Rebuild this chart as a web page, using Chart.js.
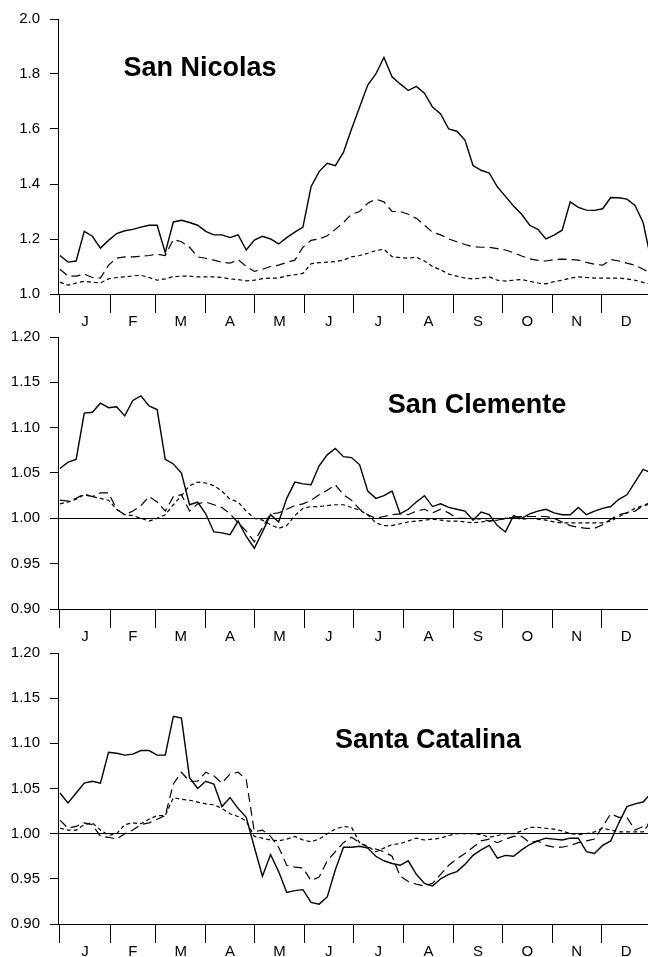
<!DOCTYPE html>
<html>
<head>
<meta charset="utf-8">
<script src="https://cdn.jsdelivr.net/npm/chart.js@4.4.0/dist/chart.umd.min.js"></script>
<style>
  body { margin: 0; background: #fff; width: 648px; height: 957px; overflow: hidden; position: relative; }
  canvas { position: absolute; left: 0; }
</style>
</head>
<body>
<canvas id="c1" width="648" height="333" style="top:0px"></canvas>
<canvas id="c2" width="648" height="330" style="top:318px"></canvas>
<canvas id="c3" width="648" height="323" style="top:634px"></canvas>
<script>
// day of year for every sample
var days = [0,5,10,15,20,25,30,35,40,45,50,55,60,65,70,75,80,85,90,95,
  100,105,110,115,120,125,130,135,140,145,150,155,160,165,170,175,180,185,190,195,
  200,205,210,215,220,225,230,235,240,245,250,255,260,265,270,275,280,285,290,295,
  300,305,310,315,320,325,330,335,340,345,350,355,360,365];

var monthStarts = [0,31,59,90,120,151,181,212,243,273,304,334];
var monthLengths = [31,28,31,30,31,30,31,31,30,31,30,31];
var monthNames = ['J','F','M','A','M','J','J','A','S','O','N','D'];

var nicTicks = [1.0,1.2,1.4,1.6,1.8,2.0];
var ratioTicks = [0.90,0.95,1.00,1.05,1.10,1.15,1.20];

// San Nicolas
var nicSolid = [1.14,1.116,1.12,1.228,1.21,1.167,1.195,1.22,1.23,1.235,
  1.243,1.25,1.25,1.15,1.262,1.268,1.26,1.25,1.228,1.215,
  1.215,1.205,1.215,1.16,1.196,1.21,1.2,1.182,1.205,1.225,
  1.243,1.39,1.445,1.475,1.467,1.515,1.6,1.68,1.76,1.8,
  1.86,1.79,1.764,1.74,1.755,1.73,1.68,1.655,1.6,1.592,
  1.56,1.467,1.45,1.44,1.39,1.355,1.32,1.29,1.25,1.235,
  1.2,1.214,1.232,1.335,1.315,1.305,1.304,1.31,1.351,1.35,
  1.345,1.322,1.26,1.12];
var nicLong = [1.09,1.065,1.065,1.072,1.06,1.058,1.105,1.13,1.135,1.135,
  1.137,1.14,1.145,1.14,1.198,1.19,1.17,1.135,1.13,1.123,
  1.116,1.112,1.125,1.1,1.082,1.09,1.1,1.105,1.115,1.123,
  1.17,1.195,1.2,1.212,1.235,1.26,1.29,1.3,1.33,1.345,
  1.335,1.3,1.3,1.29,1.275,1.25,1.225,1.215,1.2,1.19,
  1.18,1.172,1.17,1.17,1.165,1.16,1.15,1.138,1.128,1.122,
  1.12,1.125,1.127,1.125,1.123,1.115,1.108,1.105,1.125,1.12,
  1.112,1.105,1.09,1.075];
var nicShort = [1.043,1.032,1.04,1.046,1.043,1.04,1.055,1.06,1.062,1.066,
  1.068,1.06,1.05,1.055,1.063,1.065,1.065,1.062,1.062,1.062,
  1.06,1.055,1.052,1.048,1.05,1.056,1.058,1.058,1.066,1.07,
  1.075,1.11,1.114,1.116,1.118,1.123,1.135,1.14,1.148,1.158,
  1.163,1.136,1.132,1.13,1.134,1.12,1.1,1.088,1.072,1.065,
  1.058,1.055,1.058,1.062,1.05,1.047,1.05,1.053,1.046,1.04,
  1.037,1.045,1.05,1.058,1.062,1.06,1.058,1.058,1.058,1.058,
  1.055,1.05,1.042,1.035];

// San Clemente
var cleSolid = [1.055,1.062,1.065,1.116,1.117,1.127,1.122,1.123,1.113,1.13,
  1.135,1.124,1.12,1.065,1.06,1.05,1.015,1.018,1.005,0.985,
  0.984,0.982,0.997,0.98,0.967,0.985,1.004,0.996,1.022,1.04,
  1.038,1.037,1.058,1.07,1.077,1.068,1.067,1.059,1.03,1.022,
  1.025,1.03,1.005,1.01,1.018,1.025,1.013,1.016,1.012,1.01,
  1.008,0.998,1.007,1.004,0.992,0.985,1.003,1.0,1.005,1.008,
  1.01,1.006,1.004,1.004,1.012,1.004,1.008,1.011,1.013,1.021,
  1.026,1.04,1.054,1.05];
var cleLong = [1.02,1.019,1.022,1.027,1.024,1.028,1.028,1.01,1.004,1.008,
  1.014,1.024,1.018,1.008,1.024,1.026,1.008,1.016,1.018,1.015,
  1.012,1.005,0.995,0.986,0.974,0.99,1.005,1.006,1.01,1.014,
  1.016,1.02,1.026,1.031,1.037,1.026,1.02,1.01,1.004,1.0,
  1.002,1.004,1.005,1.004,1.008,1.01,1.006,1.01,1.006,1.0,
  1.0,1.0,0.999,0.997,0.998,1.0,1.001,1.002,1.002,1.002,
  1.002,1.0,0.996,0.992,0.99,0.989,0.989,0.993,0.999,1.004,
  1.006,1.008,1.014,1.018];
var cleShort = [1.016,1.018,1.021,1.026,1.024,1.022,1.02,1.01,1.004,1.003,
  1.0,0.997,1.0,1.004,1.015,1.025,1.036,1.04,1.039,1.036,
  1.03,1.021,1.018,1.008,1.0,0.998,0.993,0.989,0.992,1.003,
  1.011,1.013,1.013,1.014,1.015,1.015,1.012,1.009,1.004,0.995,
  0.992,0.992,0.994,0.996,0.997,0.998,0.999,0.998,0.997,0.997,
  0.996,0.995,0.996,0.997,0.998,1.0,1.001,0.999,1.0,0.999,
  0.998,0.996,0.995,0.995,0.995,0.995,0.995,0.995,0.997,1.002,
  1.006,1.011,1.014,1.016];

// Santa Catalina
var catSolid = [1.045,1.034,1.045,1.056,1.058,1.056,1.09,1.089,1.087,1.088,
  1.092,1.092,1.087,1.087,1.13,1.128,1.062,1.05,1.058,1.055,
  1.03,1.04,1.028,1.018,0.985,0.953,0.977,0.958,0.935,0.937,
  0.938,0.924,0.922,0.93,0.96,0.985,0.985,0.986,0.984,0.975,
  0.97,0.967,0.965,0.97,0.955,0.945,0.942,0.95,0.955,0.958,
  0.966,0.976,0.982,0.987,0.973,0.976,0.975,0.982,0.988,0.992,
  0.995,0.994,0.993,0.995,0.995,0.98,0.978,0.987,0.992,1.012,
  1.03,1.033,1.035,1.045];
var catLong = [1.015,1.006,1.008,1.012,1.01,0.997,0.996,0.994,1.0,1.004,
  1.01,1.012,1.016,1.02,1.055,1.068,1.058,1.058,1.068,1.064,
  1.056,1.066,1.068,1.06,1.002,1.004,0.997,0.985,0.965,0.963,
  0.962,0.948,0.952,0.97,0.98,0.99,0.996,0.99,0.985,0.983,
  0.98,0.975,0.953,0.947,0.944,0.942,0.945,0.955,0.965,0.972,
  0.978,0.985,0.992,0.994,0.99,0.994,0.997,0.997,0.99,0.992,
  0.987,0.985,0.985,0.987,0.99,0.992,0.994,1.008,1.022,1.018,
  1.018,1.004,1.008,1.012];
var catShort = [1.006,1.004,1.004,1.01,1.012,1.004,0.998,1.0,1.01,1.012,
  1.011,1.016,1.02,1.02,1.04,1.038,1.037,1.035,1.033,1.032,
  1.028,1.022,1.019,1.014,0.997,0.995,0.993,0.992,0.994,0.997,
  0.993,0.991,0.994,1.0,1.005,1.008,1.007,0.99,0.986,0.98,
  0.984,0.988,0.989,0.992,0.995,0.993,0.994,0.995,0.998,1.0,
  1.0,1.0,0.999,0.996,0.998,1.0,1.0,1.003,1.007,1.007,
  1.006,1.005,1.003,1.0,0.999,1.0,1.002,1.006,1.004,1.002,
  1.002,1.002,1.002,1.014];

var FONT = '"Liberation Sans", Arial, Helvetica, sans-serif';
Chart.defaults.font.family = FONT;
Chart.defaults.color = '#000';

var lineStyles = [
  { dash: [], width: 1.4 },
  { dash: [9, 5], width: 1.2 },
  { dash: [4, 3], width: 1.2 }
];

var panels = [
  { id: 'c1', title: 'San Nicolas', titleDay: 86.4, titleValue: 1.7935,
    min: 1.0, max: 2.0, ticks: nicTicks, digits: 1, top: 18, bottom: 294,
    series: [nicSolid, nicLong, nicShort] },
  { id: 'c2', title: 'San Clemente', titleDay: 257.4, titleValue: 1.1163,
    min: 0.9, max: 1.2, ticks: ratioTicks, digits: 2, top: 15, bottom: 291,
    series: [cleSolid, cleLong, cleShort] },
  { id: 'c3', title: 'Santa Catalina', titleDay: 227.2, titleValue: 1.095,
    min: 0.9, max: 1.2, ticks: ratioTicks, digits: 2, top: 15, bottom: 290,
    series: [catSolid, catLong, catShort] }
];

// island name written inside the plot
var titlePlugin = {
  id: 'panelTitle',
  afterDatasetsDraw: function(chart, args, opts) {
    var ctx = chart.ctx;
    ctx.save();
    ctx.font = 'bold 27px ' + FONT;
    ctx.fillStyle = '#000';
    ctx.textAlign = 'center';
    ctx.textBaseline = 'alphabetic';
    ctx.fillText(opts.text, chart.scales.x.getPixelForValue(opts.day), chart.scales.y.getPixelForValue(opts.value));
    ctx.restore();
  }
};

function isMonthStart(v) {
  return monthStarts.indexOf(v) >= 0;
}

function monthLabel(v) {
  for (var i = 0; i < monthStarts.length; i++) {
    if (Math.abs(v - (monthStarts[i] + monthLengths[i] / 2)) < 0.01) return monthNames[i];
  }
  return '';
}

function makeChart(p) {
  var canvas = document.getElementById(p.id);
  var datasets = p.series.map(function(vals, i) {
    return {
      data: days.map(function(d, k) { return { x: d, y: vals[k] }; }),
      borderColor: '#000',
      borderWidth: lineStyles[i].width,
      borderDash: lineStyles[i].dash,
      pointRadius: 0,
      tension: 0,
      fill: false
    };
  });

  return new Chart(canvas, {
    type: 'line',
    data: { datasets: datasets },
    plugins: [titlePlugin],
    options: {
      responsive: false,
      animation: false,
      layout: { padding: { top: p.top, left: 0, right: 0, bottom: 0 } },
      plugins: {
        legend: { display: false },
        tooltip: { enabled: false },
        panelTitle: { text: p.title, day: p.titleDay, value: p.titleValue }
      },
      scales: {
        x: {
          type: 'linear',
          min: -1.2,
          max: 363,
          afterBuildTicks: function(s) {
            var t = [];
            for (var i = 0; i < monthStarts.length; i++) {
              t.push({ value: monthStarts[i] });
              t.push({ value: monthStarts[i] + monthLengths[i] / 2 });
            }
            s.ticks = t;
          },
          afterFit: function(s) { s.height = canvas.height - p.bottom; },
          grid: {
            drawOnChartArea: false,
            tickLength: 19,
            tickColor: function(c) { return c.tick && isMonthStart(c.tick.value) ? '#000' : 'rgba(0,0,0,0)'; }
          },
          border: { color: '#000', width: 1 },
          ticks: {
            autoSkip: false,
            maxRotation: 0,
            minRotation: 0,
            padding: 0,
            font: { size: 15 },
            color: '#000',
            callback: function(v) { return monthLabel(v); }
          }
        },
        y: {
          min: p.min,
          max: p.max,
          afterBuildTicks: function(s) {
            s.ticks = p.ticks.map(function(v) { return { value: v }; });
          },
          afterFit: function(s) { s.width = 58; },
          grid: {
            tickLength: 8,
            tickColor: '#000',
            color: function(c) { return c.tick && Math.abs(c.tick.value - 1) < 1e-9 ? '#000' : 'rgba(0,0,0,0)'; }
          },
          border: { color: '#000', width: 1 },
          ticks: {
            padding: 10,
            font: { size: 15 },
            color: '#000',
            callback: function(v) { return Number(v).toFixed(p.digits); }
          }
        }
      }
    }
  });
}

panels.forEach(makeChart);
</script>
</body>
</html>
